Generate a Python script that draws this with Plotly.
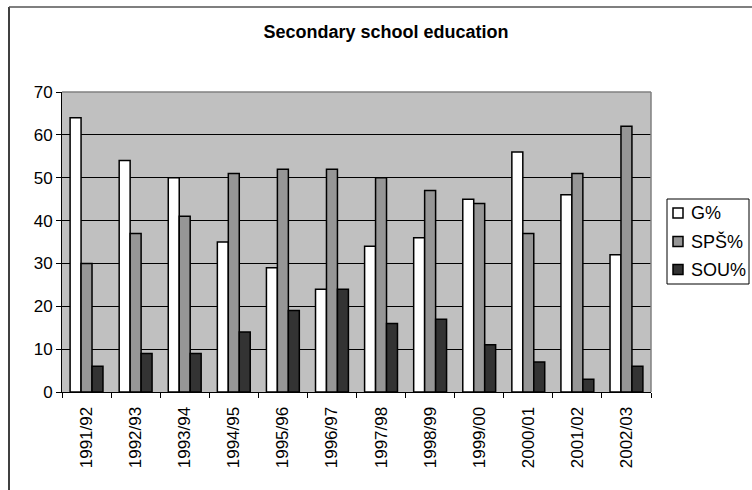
import plotly.graph_objects as go

years = ["1991/92", "1992/93", "1993/94", "1994/95", "1995/96", "1996/97",
         "1997/98", "1998/99", "1999/00", "2000/01", "2001/02", "2002/03"]
g_pct = [64, 54, 50, 35, 29, 24, 34, 36, 45, 56, 46, 32]
sps_pct = [30, 37, 41, 51, 52, 52, 50, 47, 44, 37, 51, 62]
sou_pct = [6, 9, 9, 14, 19, 24, 16, 17, 11, 7, 3, 6]

series_names = ["G%", "SPŠ%", "SOU%"]
series_values = [g_pct, sps_pct, sou_pct]
series_colors = ["#FFFFFF", "#969696", "#333333"]

FONT = "Liberation Sans, Arial, sans-serif"

fig = go.Figure()
for name, vals, col in zip(series_names, series_values, series_colors):
    fig.add_trace(go.Bar(
        x=years, y=vals, name=name,
        marker=dict(color=col, line=dict(color="#000000", width=1.5)),
    ))

L, R, T, B = 62, 101, 92, 98
PW, PH = 752 - L - R, 490 - T - B

def px_x(x):
    return (x - L) / PW

def px_y(y):
    return (490 - B - y) / PH

shapes = [
    dict(type="line", xref="paper", yref="paper", x0=0, x1=1, y0=1, y1=1,
         line=dict(color="#808080", width=1.5), layer="above"),
    dict(type="line", xref="paper", yref="paper", x0=1, x1=1, y0=0, y1=1,
         line=dict(color="#808080", width=1.5), layer="above"),
    dict(type="line", xref="paper", yref="paper", x0=px_x(9), x1=px_x(9),
         y0=px_y(7), y1=px_y(520), line=dict(color="#000000", width=1.5), layer="above"),
    dict(type="line", xref="paper", yref="paper", x0=px_x(9), x1=px_x(780),
         y0=px_y(7), y1=px_y(7), line=dict(color="#555555", width=1.5), layer="above"),
    # legend box
    dict(type="rect", xref="paper", yref="paper", x0=px_x(667), x1=px_x(749),
         y0=px_y(284), y1=px_y(199), line=dict(color="#000000", width=1),
         fillcolor="#FFFFFF", layer="above"),
]
annotations = []
legend_y = [213, 241.5, 269.5]
for name, col, ly in zip(series_names, series_colors, legend_y):
    shapes.append(dict(type="rect", xref="paper", yref="paper",
                       x0=px_x(673), x1=px_x(683), y0=px_y(ly + 5), y1=px_y(ly - 5),
                       line=dict(color="#000000", width=1.5), fillcolor=col, layer="above"))
    annotations.append(dict(text=name, xref="paper", yref="paper", x=px_x(689), y=px_y(ly),
                            xanchor="left", yanchor="middle", showarrow=False,
                            font=dict(family=FONT, size=18, color="#000000")))

fig.update_layout(
    width=752, height=490,
    margin=dict(l=L, r=R, t=T, b=B, pad=0, autoexpand=False),
    paper_bgcolor="#FFFFFF",
    plot_bgcolor="#C0C0C0",
    barmode="group",
    bargap=0.33,
    bargroupgap=0,
    font=dict(family=FONT, size=17, color="#000000"),
    title=dict(text="<b>Secondary school education</b>", x=386 / 752, xref="container",
               xanchor="center", y=1 - 32 / 490, yref="container", yanchor="middle",
               font=dict(family=FONT, size=18, color="#000000")),
    showlegend=False,
    xaxis=dict(
        type="category", tickangle=-90, ticks="outside", ticklen=5, tickcolor="#000000",
        tickson="boundaries", showline=True, linecolor="#000000", linewidth=1,
        showgrid=False, tickfont=dict(family=FONT, size=17), zeroline=False,
        ticklabelstandoff=7,
    ),
    yaxis=dict(
        range=[0, 70], dtick=10, ticks="outside", ticklen=5, tickcolor="#000000",
        showline=True, linecolor="#000000", linewidth=1,
        showgrid=True, gridcolor="#000000", gridwidth=1, zeroline=False,
        tickfont=dict(family=FONT, size=17),
    ),
    shapes=shapes,
    annotations=annotations,
)

fig.write_html("out.html")
